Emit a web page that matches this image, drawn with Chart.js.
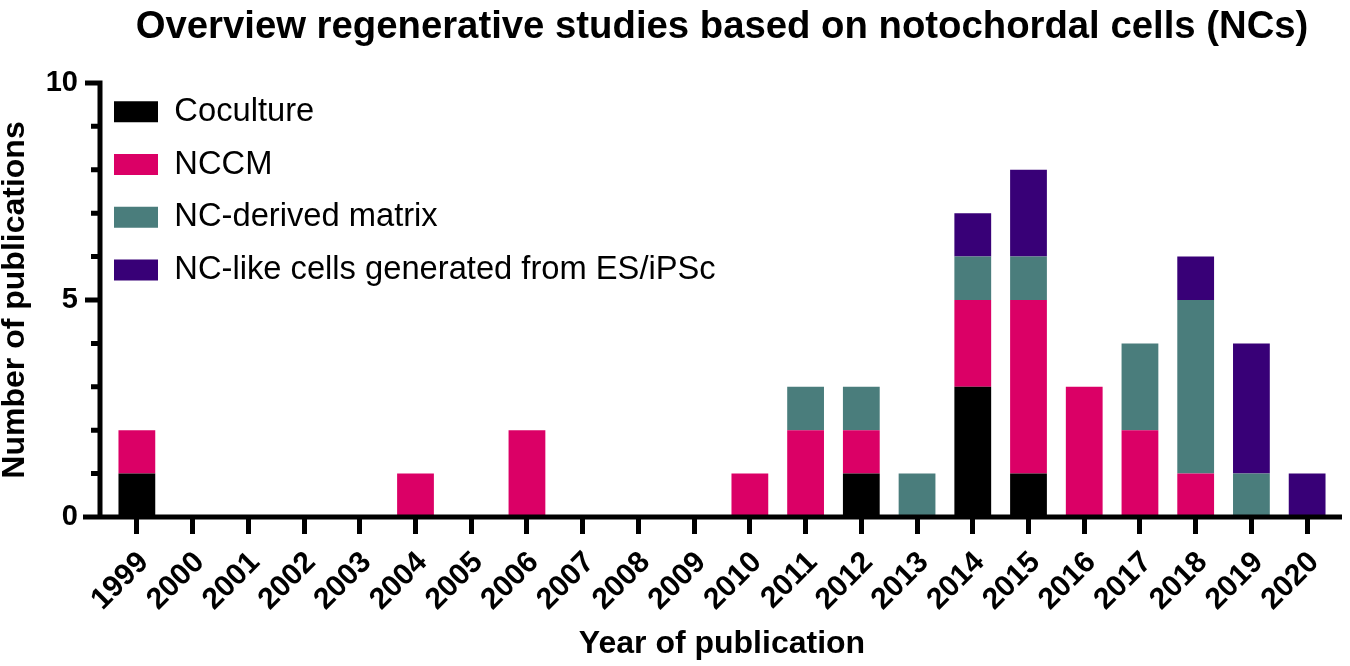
<!DOCTYPE html>
<html>
<head>
<meta charset="utf-8">
<script src="https://cdn.jsdelivr.net/npm/chart.js@4.4.1/dist/chart.umd.min.js"></script>
<style>
html,body{margin:0;padding:0;background:#fff;}
#wrap{width:1350px;height:666px;}
</style>
</head>
<body>
<div id="wrap"><canvas id="c" width="1350" height="666"></canvas></div>
<script>
const years = ['1999','2000','2001','2002','2003','2004','2005','2006','2007','2008','2009','2010','2011','2012','2013','2014','2015','2016','2017','2018','2019','2020'];
const coculture = [1,0,0,0,0,0,0,0,0,0,0,0,0,1,0,3,1,0,0,0,0,0];
const nccm      = [1,0,0,0,0,1,0,2,0,0,0,1,2,1,0,2,4,3,2,1,0,0];
const ncDerived = [0,0,0,0,0,0,0,0,0,0,0,0,1,1,1,1,1,0,2,4,1,0];
const ncLike    = [0,0,0,0,0,0,0,0,0,0,0,0,0,0,0,1,2,0,0,1,3,1];
const seriesNames = ['Coculture','NCCM','NC-derived matrix','NC-like cells generated from ES/iPSc'];
const seriesColors = ['#000000','#DB0066','#4A7D7C','#380077'];
const yTickLabels = [0,5,10];

const FONT = "'Liberation Sans', Arial, Helvetica, sans-serif";
Chart.defaults.font.family = FONT;
Chart.defaults.color = '#000';

const axisPlugin = {
  id: 'customAxes',
  afterLayout(chart) {
    const lg = chart.legend;
    const area = chart.chartArea;
    if (lg) {
      const w = lg.width, h = lg.height;
      lg.left = area.left - 15; lg.right = lg.left + w;
      lg.top = area.top - 7.5; lg.bottom = lg.top + h;
    }
  },
  afterDatasetsDraw(chart) {
    const ctx = chart.ctx;
    const ys = chart.scales.y;
    const area = chart.chartArea;
    const ax = area.left - 9;
    const y0 = ys.getPixelForValue(0);
    const yTop = ys.getPixelForValue(10);
    ctx.save();
    ctx.strokeStyle = '#000';
    ctx.lineWidth = 5;
    ctx.lineCap = 'butt';
    ctx.beginPath();
    ctx.moveTo(ax, yTop - 2.5);
    ctx.lineTo(ax, y0 + 2.5);
    ctx.moveTo(area.left - 26, y0);
    ctx.lineTo(area.right + 7, y0);
    ys.ticks.forEach(t => {
      const py = ys.getPixelForValue(t.value);
      const len = (t.value % 5 === 0) ? 15 : 9;
      ctx.moveTo(ax, py);
      ctx.lineTo(ax - len, py);
    });
    ctx.stroke();
    ctx.restore();
  }
};

const datasets = [coculture, nccm, ncDerived, ncLike].map((d, i) => ({
  label: seriesNames[i],
  data: d,
  backgroundColor: seriesColors[i],
  borderWidth: 0,
  categoryPercentage: 1.0,
  barPercentage: 0.66
}));

new Chart(document.getElementById('c'), {
  type: 'bar',
  data: { labels: years, datasets },
  options: {
    responsive: false,
    animation: false,
    devicePixelRatio: 1,
    layout: { padding: { top: 0, left: 0, right: 15, bottom: 0 } },
    plugins: {
      title: {
        display: true,
        fullSize: false,
        text: 'Overview regenerative studies based on notochordal cells (NCs)',
        color: '#000',
        font: { size: 38.3, weight: 'bold', family: FONT },
        padding: { top: 4, bottom: 33 }
      },
      legend: {
        display: true,
        position: 'chartArea',
        align: 'start',
        labels: {
          color: '#000',
          font: { size: 32.7, family: FONT },
          boxWidth: 44,
          boxHeight: 21,
          padding: 20
        }
      },
      tooltip: { enabled: false }
    },
    scales: {
      x: {
        stacked: true,
        offset: true,
        border: { display: false },
        grid: {
          display: true,
          drawOnChartArea: false,
          drawTicks: true,
          tickLength: 17,
          tickWidth: 5,
          tickColor: '#000',
          offset: false
        },
        ticks: {
          color: '#000',
          font: { size: 30, weight: 'bold', family: FONT },
          minRotation: 45,
          maxRotation: 45,
          autoSkip: false,
          labelOffset: 7,
          padding: 11
        },
        title: {
          display: true,
          text: 'Year of publication',
          color: '#000',
          font: { size: 32, weight: 'bold', family: FONT },
          padding: { top: 0, bottom: 2.4 }
        },
        afterFit(s) { s.height = 149; }
      },
      y: {
        stacked: true,
        min: 0,
        max: 10,
        border: { display: false },
        grid: { display: false, drawTicks: false, tickLength: 0 },
        ticks: {
          stepSize: 1,
          color: '#000',
          font: { size: 29, weight: 'bold', family: FONT },
          padding: 31,
          callback: (v) => yTickLabels.includes(v) ? String(v) : ''
        },
        title: {
          display: true,
          text: 'Number of publications',
          color: '#000',
          font: { size: 32, weight: 'bold', family: FONT },
          padding: { top: -4.2, bottom: 0 }
        },
        afterFit(s) { s.width = 109; }
      }
    }
  },
  plugins: [axisPlugin]
});
</script>
</body>
</html>
